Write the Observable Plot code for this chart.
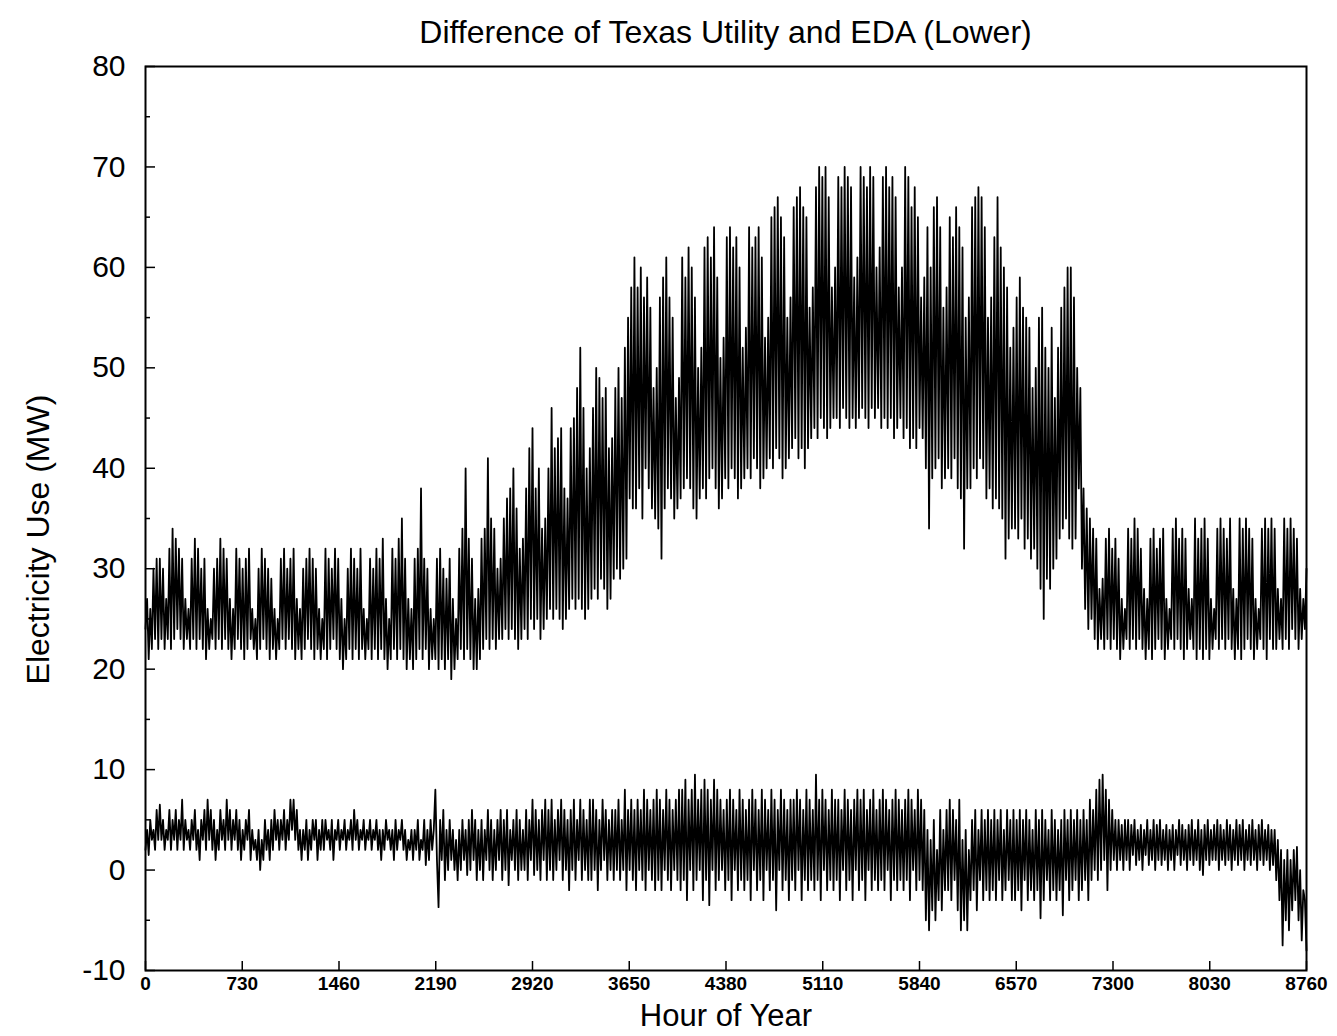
<!DOCTYPE html>
<html><head><meta charset="utf-8">
<script src="https://cdn.jsdelivr.net/npm/d3@7"></script>
<script src="https://cdn.jsdelivr.net/npm/@observablehq/plot@0.6"></script>
<style>
body{margin:0;background:#fff;font-family:"Liberation Sans",Arial,sans-serif;}
#title{height:50px;box-sizing:border-box;padding:15px 31px 0 145px;text-align:center;font-size:32px;line-height:34px;color:#000;white-space:nowrap;}
svg [aria-label="x-axis tick label"]{font-weight:bold;}
</style></head><body>
<div id="title">Difference of Texas Utility and EDA (Lower)</div>
<div id="chart"></div>
<script>
// Hour-of-year samples every ~12 hours (one line per week: low/high per day)
const utilityLoad = [
24,27,21,26,22,30,23,31,22,31,23,30,22,27,
23,32,22,34,23,33,24,32,23,31,22,27,23,26,
22,31,23,33,22,32,23,30,22,31,21,26,22,25,
23,30,22,31,23,33,22,32,23,31,22,27,21,26,
22,32,23,31,22,30,21,31,22,32,23,26,22,25,
21,30,22,32,23,31,22,30,21,29,22,26,21,25,
22,31,23,32,22,30,23,31,22,32,21,27,22,26,
21,30,22,31,23,32,22,31,21,30,22,26,21,25,
22,32,21,31,22,30,23,32,22,31,21,27,20,25,
21,30,22,32,21,31,22,30,21,32,22,26,21,25,
22,31,21,30,22,32,21,31,22,33,21,27,20,25,
21,32,22,31,21,33,22,35,21,31,20,27,21,26,
20,31,21,32,22,38,21,31,22,30,20,26,21,25,
21,31,20,32,21,30,20,29,21,31,19,27,20,25,
21,32,22,34,21,40,22,33,21,31,20,27,20,28,
21,33,22,34,23,41,22,35,23,34,22,30,23,31,
23,35,24,37,23,38,24,40,23,36,22,32,23,33,
24,38,23,42,25,44,24,38,25,40,23,34,24,35,
25,40,26,46,25,42,26,43,25,44,24,38,25,37,
26,44,27,45,26,48,27,52,26,46,25,40,26,42,
27,46,28,50,27,49,29,47,28,48,26,42,27,43,
29,48,30,50,29,47,30,52,31,55,37,58,36,61,
36,58,38,60,35,57,40,59,38,56,36,48,35,50,
34,57,31,59,36,61,38,57,37,55,35,47,36,49,
37,61,38,59,39,62,38,60,36,57,35,50,37,52,
38,62,37,63,39,61,40,64,38,59,36,51,37,53,
39,63,38,64,40,62,39,63,37,60,38,52,39,54,
40,64,39,62,41,63,40,64,38,61,39,53,40,55,
41,65,40,66,42,67,41,65,39,63,40,55,41,57,
42,66,43,67,41,68,42,66,40,65,42,56,43,58,
44,68,43,70,45,69,44,70,43,67,44,58,45,60,
45,69,44,68,46,70,45,69,44,68,45,59,44,61,
45,70,46,69,45,68,44,70,46,69,45,60,46,62,
44,69,45,70,44,68,45,69,43,67,44,58,45,60,
43,70,44,69,42,66,43,68,42,65,44,57,43,59,
40,64,34,60,39,66,40,67,41,64,38,56,39,58,
40,65,39,63,41,66,38,64,37,62,32,55,38,57,
38,66,40,67,39,68,41,67,40,64,37,55,38,57,
36,63,37,67,36,62,35,60,31,58,33,52,34,54,
34,57,33,59,35,56,32,55,33,54,31,48,32,50,
30,55,28,56,25,52,29,50,28,54,30,47,31,52,
33,56,34,58,35,60,33,60,32,57,33,50,38,48,
30,38,26,36,24,35,25,34,23,33,22,28,23,29,
22,33,23,34,22,32,23,33,22,31,21,27,22,26,
23,34,22,33,23,35,22,34,23,32,22,28,21,27,
22,33,21,34,22,32,23,33,22,34,21,27,22,26,
23,34,22,35,23,33,22,34,21,33,22,28,23,27,
22,35,21,33,22,34,21,35,22,33,21,27,22,26,
23,34,22,35,23,34,22,33,23,35,22,28,21,27,
22,35,21,34,22,35,23,34,22,33,21,27,22,26,
23,34,22,35,21,34,23,35,22,34,22,28,23,27,
22,35,23,34,22,35,24,34,23,33,22,28,23,27,
24,30
];
const difference = [
2,4,1.5,5,3,4,2,6,3,6.5,3,5,2,4,
3,6,2,5,3,6,2,5,3,7,2,5,3,4,
2,5,3,6,2,4,1,5,3,6,2,7,3,6,
2,5,1,4,2,6,3,5,2,7,3,6,2,5,
3,6,2,5,1,4,2,5,3,6,1,4,2,3,
1,4,0,3,1,5,2,4,1,5,2,6,3,5,
2,5,3,6,2,5,3,7,4,7,3,6,2,4,
1,4,2,5,1,4,2,5,3,5,1,4,2,5,
2,5,3,4,2,5,1,4,3,5,2,4,3,5,
2,4,3,5,2,6,3,5,2,4,3,5,2,4,
3,5,2,4,3,5,2,4,1,4,2,5,3,4,
2,4,1,5,2,4,3,5,2,4,1,3,2,4,
1,4,2,5,1,3,2,5,0.5,4,1,5,2,4,
8,1,-3.7,5,1,6,-1,4,0,5,1,4,0,3,
-1,4,0,5,1,4,-0.5,5,0,6,1,5,-1,4,
0,5,-1,4,1,6,0,5,-1,4,0,5,1,6,
-1,5,0,6,-1.5,4,1,5,0,6,-1,5,0,4,
0,6,-1,5,1,7,-0.5,6,0,5,-1,6,1,7,
-1,6,0,7,-1,5,0,6,1,7,-1,6,0,5,
-2,6,0,7,-1,5,1,7,-1,6,0,5,-1,7,
-1,7,0,6,-2,5,0,7,1,6,-1,5,0,6,
-1,6,0,7,-1,5,0,8,-2,6,0,7,-1,6,
-2,7,0,6,-1,8,-2,7,0,6,-1,7,-2,8,
-1,7,-2,6,0,8,-1,7,-2,6,0,7,-1,8,
-2,8,-1,9,-3,7,0,8,-2,9.5,-1,7,0,8,
-3,9,-1,8,-3.5,7,0,9,-2,8,-1,7,0,6,
-2,7,-1,8,-3,7,0,6,-2,8,-1,7,-2,6,
-1,7,-3,8,0,7,-2,6,-1,8,-3,7,0,6,
-2,8,-1,7,-4,6,0,8,-2,7,-1,6,-3,7,
-1,7,-2,8,0,7,-3,6,-1,8,-2,7,-1,6,
-2,9.5,-1,7,-3,8,0,7,-2,6,-1,8,-2,7,
-1,7,-3,6,0,8,-2,7,-1,6,-3,7,0,8,
-2,7,-1,8,-3,6,0,7,-2,8,-1,6,-2,7,
-1,8,-2,7,0,6,-3,7,-1,8,-2,7,-1,6,
-2,7,-1,8,-3,7,0,6,-2,8,-1,7,-2,6,
-5,4,-6,3,-4,5,-5,2,-3,6,-4,4,-2,6,
-2,7,-3,6,-1,5,-4,7,-6,3,-5,4,-6,2,
-3,5,-2,6,-4,4,-1,6,-3,5,-2,6,-3,5,
-2,6,-3,5,-1,6,-3,4,-2,6,-1,5,-3,6,
-3,5,-2,6,-4,5,-1,6,-3,5,-2,4,-3,6,
-2,5,-4.8,6,-3,5,-1,4,-3,6,-2,5,-3,4,
-2,5,-4.5,6,-1,5,-3,6,-2,5,-1,6,-3,5,
-2,6,-1,5,-3,7,-1,6,0,8,-1,9,0,9.5,
1,8,-2,7,0,6,1,5,0,5,1,4.5,0,5,
1,5,0,4.5,1.5,5,0.5,4,1,4.5,0,4,1.5,5,
0.5,4,1,5,0,4.5,1,5,0.5,4,1,4.5,0,4,
1,4.5,0,4,1.5,5,0.5,4.5,1,4,0,4.5,1,5,
0.5,4,1,5,0,4,-0.5,4.5,1,5,0.5,4,1,4.5,
1,5,0,4.5,1,4,0.5,5,1,4.5,0,4,1,5,
0.5,4.5,1,5,0,4,1,4.5,0.5,5,1,4,0,4.5,
1,5,0.5,4,1,4.5,0,4,0.5,4,-1,3,-3,2,
-7.5,1,-5,2,-6,1,-4,2,-3,2.3,-5,0,-7,-2,
-3,-8
];
const xTicks = [0,730,1460,2190,2920,3650,4380,5110,5840,6570,7300,8030,8760];
const yTicks = [-10,0,10,20,30,40,50,60,70,80];
const yMinorTicks = [-5,5,15,25,35,45,55,65,75];

const rows = [];
function addSeries(values, name) {
  const n = values.length;
  values.forEach((v, i) => rows.push({hour: i * 8760 / (n - 1), mw: v, series: name}));
}
addSeries(utilityLoad, "Texas Utility");
addSeries(difference, "Difference");

const chart = Plot.plot({
  width: 1337, height: 986,
  marginLeft: 145, marginRight: 31, marginTop: 16, marginBottom: 66,
  x: {domain: [0, 8760]},
  y: {domain: [-10, 80]},
  style: {fontFamily: "Liberation Sans, Arial, sans-serif", color: "#000", background: "#fff"},
  marks: [
    Plot.line(rows, {x: "hour", y: "mw", z: "series", stroke: "#000", strokeWidth: 1.8}),
    Plot.frame({stroke: "#000", strokeWidth: 2}),
    Plot.axisX({ticks: xTicks, tickSize: -9, tickPadding: 15, tickFormat: d => String(d), fontSize: 19, label: null, strokeWidth: 1.5}),
    Plot.axisY({ticks: yTicks, tickSize: -10, tickPadding: 30, tickFormat: d => String(d), fontSize: 30, label: null, strokeWidth: 1.5}),
    Plot.axisY({ticks: yMinorTicks, tickSize: -5, tickFormat: () => "", label: null, strokeWidth: 1.5}),
    Plot.text(["Hour of Year"], {frameAnchor: "bottom", dy: 55, fontSize: 31}),
    Plot.text(["Electricity Use (MW)"], {frameAnchor: "left", textAnchor: "middle", rotate: -90, dx: -107, dy: 21, fontSize: 32})
  ]
});
document.getElementById("chart").appendChild(chart);
</script>
</body></html>
